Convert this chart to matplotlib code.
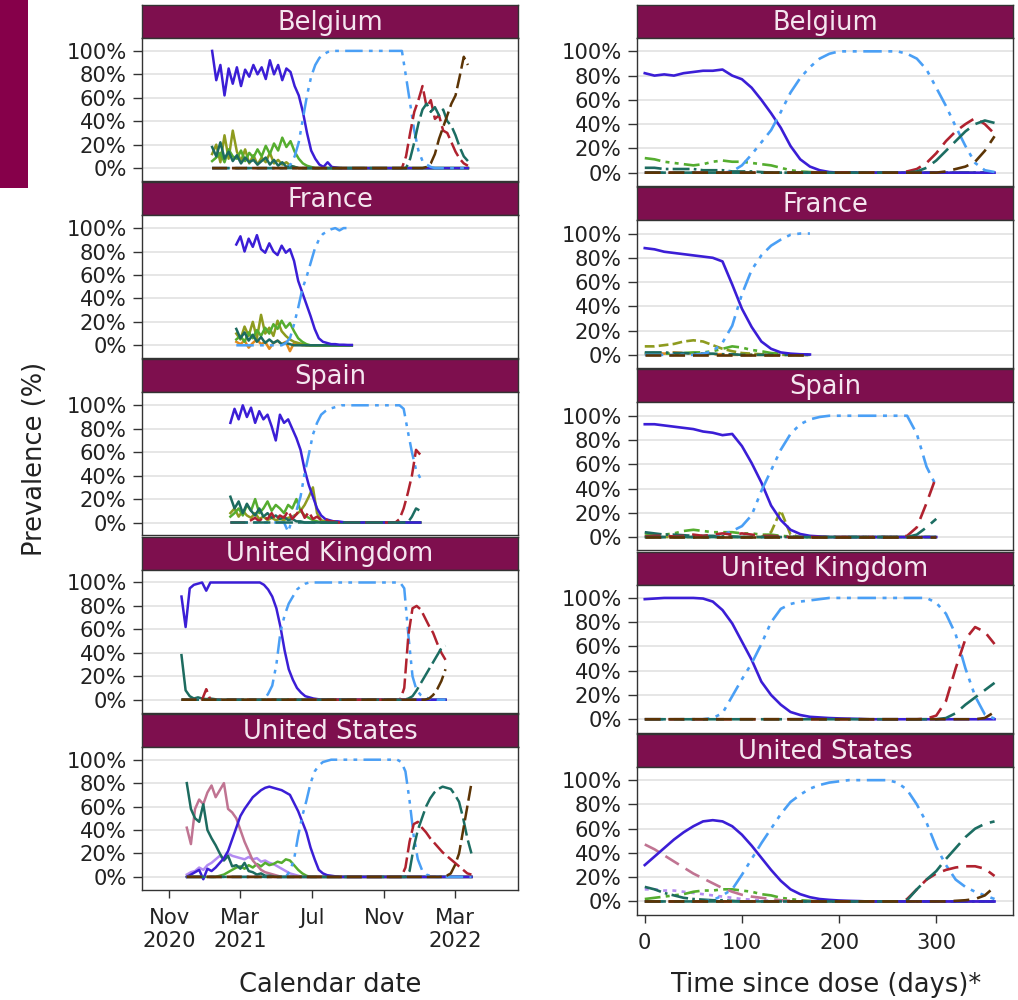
import numpy as np
import pandas as pd
import matplotlib
matplotlib.use("Agg")
import matplotlib.pyplot as plt
from matplotlib.patches import Rectangle

countries = ["Belgium", "France", "Spain", "United Kingdom", "United States"]

# ---- calendar-date panels: weekly prevalence (%) from a start date ----
be_cal_start = "2021-01-13"
be_cal_alpha = [100, 75, 88, 62, 85, 72, 86, 70, 84, 78, 88, 80, 86, 76, 92, 80, 88, 75, 85, 82,
                70, 62, 48, 30, 15, 8, 3, 1, 5, 1, 0.5] + [0] * 32
be_cal_delta = [0] * 19 + [3, 10, 22, 42, 62, 78, 88, 94, 97, 99] + [100] * 18 + \
               [78, 55, 32, 15, 6, 3, 1] + [0] * 9
be_cal_ba1 = [0] * 47 + [10, 30, 48, 58, 70, 52, 58, 42, 45, 32, 30, 22, 14, 8, 4, 2]
be_cal_ba11 = [0] * 48 + [8, 22, 38, 50, 55, 48, 52, 45, 50, 40, 36, 28, 18, 10, 6]
be_cal_ba2 = [0] * 52 + [1, 4, 12, 25, 35, 45, 55, 62, 78, 95, 88]
be_cal_olive = [12, 20, 5, 28, 8, 32, 14, 6, 16, 4, 11, 3, 9, 5, 13, 4, 7, 3, 5, 2, 1, 0] + [0] * 41
be_cal_green = [6, 9, 13, 5, 16, 10, 8, 15, 6, 13, 9, 16, 10, 19, 12, 21, 15, 26, 18, 23, 14, 8, 4, 2, 1] + [0] * 38
be_cal_other = [18, 10, 22, 8, 14, 6, 11, 4, 9, 5, 7, 3, 6, 9, 3, 7, 2, 5, 1, 2, 1] + [0] * 42

fr_cal_start = "2021-02-23"
fr_cal_alpha = [86, 93, 80, 91, 84, 94, 82, 79, 87, 80, 77, 85, 79, 82, 72, 55, 45, 35, 25, 14,
                6, 3, 2, 1, 1, 0.5, 0.5, 0.3, 0.3]
fr_cal_delta = [0] * 12 + [2, 6, 18, 32, 48, 58, 70, 82, 90, 95, 97, 99, 100, 98, 100, 100, 99]
fr_cal_olive = [10, 5, 16, 8, 20, 6, 26, 10, 15, 8, 21, 12, 8, 5, 3, 2, 1] + [0] * 12
fr_cal_green = [5, 8, 3, 11, 6, 13, 8, 15, 10, 18, 14, 21, 15, 19, 12, 6, 3, 1] + [0] * 11
fr_cal_other = [14, 6, 11, 4, 9, 3, 7, 2, 5, 2, 4, 1, 2, 1] + [0] * 15
fr_cal_orange = [3, 1, 4, -2, 2, 5, 1, 3, -3, 2, 4, 1, 3, -5, 2, 1, 0] + [0] * 12

es_cal_start = "2021-02-13"
es_cal_alpha = [85, 97, 88, 100, 90, 98, 85, 95, 88, 92, 82, 70, 92, 85, 88, 80, 72, 62, 45, 32,
                22, 12, 6, 3, 2, 1, 1, 0.5] + [0] * 19
es_cal_delta = [0] * 14 + [-8, 3, 10, 22, 42, 58, 75, 85, 92, 95, 97, 98, 99] + [100] * 15 + \
               [97, 78, 60, 45, 38]
es_cal_ba1 = [0] * 5 + [2, 4, 1, 5, 3, 8, 2, 6, 4, 10, 3, 7, 12, 4, 9, 3, 5, 2, 3, 1, 1] + [0] * 15 + \
             [3, 12, 25, 40, 62, 58]
es_cal_ba11 = [0] * 44 + [5, 12, 10]
es_cal_other = [22, 12, 18, 8, 16, 10, 6, 12, 5, 8, 4, 6, 3, 5, 2, 3, 1, 1] + [0] * 29
es_cal_green = [5, 8, 12, 6, 15, 10, 20, 8, 12, 18, 10, 15, 12, 8, 15, 12, 20, 10, 6, 4, 2, 1] + [0] * 25
es_cal_olive = [8, 12, 5, 10, 6, 4, 8, 3, 5, 2, 4, 2, 3, 2, 4, 5, 7, 10, 15, 22, 30, 8, 2, 1] + [0] * 23

uk_cal_start = "2020-11-22"
uk_cal_alpha = [88, 62, 95, 98, 99, 100, 93] + [100] * 13 + \
               [98, 94, 88, 78, 62, 42, 26, 17, 10, 6, 3, 2, 1, 0.5] + [0] * 31
uk_cal_delta = [0] * 21 + [5, 12, 30, 58, 72, 82, 88, 94, 97, 99] + [100] * 23 + \
               [95, 55, 20, 8, 4, 2, 1, 0.5] + [0] * 3
uk_cal_ba1 = [0] * 6 + [9] + [0] * 47 + [10, 55, 78, 80, 77, 70, 63, 57, 48, 40, 34]
uk_cal_ba11 = [0] * 55 + [1, 3, 8, 14, 20, 26, 32, 38, 44, 46]
uk_cal_ba2 = [0] * 60 + [1, 4, 9, 16, 26]
uk_cal_other = [38, 8, 3, 1, 2, 1, 0.5, 1, 0.5] + [0] * 56

us_cal_start = "2020-12-01"
us_cal_other = [80, 58, 50, 47, 62, 40, 33, 27, 20, 14, 18, 9, 10, 7, 12, 5, 4, 2, 3, 1, 1, 0.5] + [0] * 48
us_cal_pink = [42, 28, 58, 66, 62, 72, 78, 68, 74, 80, 58, 55, 50, 40, 30, 22, 14, 10, 6, 4, 3, 2, 1] + [0] * 47
us_cal_alpha = [0, 2, 4, 6, -2, 7, 5, 8, 12, 16, 22, 32, 42, 52, 58, 63, 68, 71, 74, 76, 77, 76, 75,
                74, 72, 70, 63, 56, 47, 38, 25, 15, 6, 3, 1.5, 1, 0.5] + [0] * 33
us_cal_purple = [2, 4, 5, 8, 6, 10, 12, 15, 18, 15, 20, 18, 17, 16, 15, 17, 15, 16, 13, 14, 12, 11,
                 9, 7, 5, 3, 2, 1] + [0] * 42
us_cal_green = [0] * 8 + [1, 2, 4, 6, 8, 9, 7, 10, 8, 11, 9, 12, 10, 11, 13, 12, 15, 14, 10, 6, 3, 1] + [0] * 40
us_cal_delta = [0] * 25 + [5, 15, 35, 52, 65, 80, 90, 95, 98, 99] + [100] * 17 + \
               [98, 90, 65, 35, 15, 6, 2, 1] + [0] * 10
us_cal_ba1 = [0] * 53 + [8, 30, 45, 47, 42, 38, 33, 29, 25, 21, 18, 15, 12, 9, 6, 3, 2]
us_cal_ba11 = [0] * 54 + [5, 25, 40, 50, 60, 67, 72, 75, 77, 76, 75, 70, 64, 50, 33, 20]
us_cal_ba2 = [0] * 63 + [1, 3, 10, 20, 40, 60, 80]

# ---- time-since-dose panels: values every 10 days from day 0 ----
be_dose_alpha = [82, 80, 81, 80, 82, 83, 84, 84, 85, 80, 77, 70, 60, 49, 37, 22, 11, 5, 2, 0.5] + [0] * 17
be_dose_delta = [0] * 9 + [1, 6, 15, 25, 35, 50, 66, 78, 87, 94, 98] + [100] * 7 + \
                [98, 94, 85, 70, 55, 38, 22, 8, 2, 0.5]
be_dose_ba1 = [0] * 27 + [1, 3, 8, 16, 26, 34, 40, 45, 40, 32]
be_dose_ba11 = [0] * 28 + [1, 4, 10, 18, 26, 34, 40, 43, 41]
be_dose_ba2 = [0] * 31 + [1, 3, 5, 9, 18, 30]
be_dose_green = [12, 11, 9, 8, 7, 6, 7, 9, 10, 9, 9, 8, 7, 6, 4, 2, 1, 0.5] + [0] * 19
be_dose_other = [4, 4, 3, 3, 3, 3, 2, 2, 2, 1, 1, 1, 0.5] + [0] * 24

fr_dose_alpha = [88, 87, 85, 84, 83, 82, 81, 80, 77, 58, 38, 23, 11, 5, 2, 1, 0.5, 0.3]
fr_dose_delta = [0] * 6 + [1, 3, 10, 24, 50, 70, 82, 90, 95, 99, 100, 100]
fr_dose_olive = [7, 7, 8, 9, 11, 12, 11, 8, 5, 3, 1.5, 1, 0.5, 0, 0, 0, 0, 0]
fr_dose_green = [1, 1, 1, 1, 1.5, 2, 2, 3, 5, 7, 6, 4, 3, 1.5, 1, 0.5, 0, 0]
fr_dose_other = [2, 2, 2, 1.5, 1.5, 1, 1, 1, 0.5, 0.5] + [0] * 8
fr_dose_orange = [1, 1.5, 1, 2, 1.5, 1, 1, 0.5, 0.5] + [0] * 9
fr_dose_ba2 = [0] * 18

es_dose_alpha = [93, 93, 92, 91, 90, 89, 87, 86, 84, 85, 75, 61, 45, 26, 14, 6, 2.5, 1, 0.5] + [0] * 12
es_dose_delta = [0] * 8 + [2, 5, 9, 18, 38, 55, 72, 85, 93, 97, 99] + [100] * 9 + [85, 58, 42]
es_dose_ba1 = [0.5, 1, 1, 0.5, 1, 2, 1, 2, 3, 2, 3, 2, 1, 1, 0.5] + [0] * 12 + [1, 8, 28, 50]
es_dose_ba11 = [0] * 28 + [2, 8, 15]
es_dose_green = [3, 2, 2, 3, 5, 6, 5, 4, 4, 4, 3, 3, 2, 2, 1, 0.5] + [0] * 15
es_dose_olive = [0] * 13 + [4, 22, 2] + [0] * 15
es_dose_other = [4, 3, 2, 2, 1.5, 1, 1, 1, 0.5, 0.5] + [0] * 21
es_dose_ba2 = [0] * 31

uk_dose_alpha = [99, 99.5, 100, 100, 100, 100, 99.5, 97, 90, 79, 64, 49, 31, 20, 12, 6, 3.5, 2, 1.5,
                 1, 0.7, 0.5, 0.3] + [0] * 14
uk_dose_delta = [0] * 7 + [1, 5, 19, 33, 46, 62, 80, 91, 95, 97, 98, 99] + [100] * 11 + \
                [96, 87, 70, 42, 19, 4, 0.5]
uk_dose_ba1 = [0] * 29 + [0.5, 3, 15, 42, 66, 76, 72, 62]
uk_dose_ba11 = [0] * 31 + [1, 5, 12, 18, 24, 30]
uk_dose_ba2 = [0] * 35 + [1, 6]

us_dose_alpha = [30, 37, 44, 51, 57, 62, 66, 67, 66, 62, 55, 46, 36, 26, 17, 10, 6, 3.5, 2, 1.3,
                 0.8, 0.5, 0.3] + [0] * 14
us_dose_delta = [0] * 7 + [1, 5, 10, 22, 35, 48, 60, 72, 82, 88, 93, 96, 98, 99] + [100] * 5 + \
                [98, 92, 80, 65, 45, 30, 18, 12, 8, 5, 2]
us_dose_pink = [47, 43, 38, 33, 28, 23, 19, 15, 11, 8, 5.5, 4, 3, 2, 1, 0.5] + [0] * 21
us_dose_other = [12, 10, 7, 5, 3, 2, 1.5, 1, 1, 0.5] + [0] * 27
us_dose_green = [2, 3, 4, 5, 6, 8, 9, 9, 10, 10, 9, 8, 6, 5, 3, 2, 1, 0.5] + [0] * 19
us_dose_purple = [10, 10, 9, 9, 8, 7, 6, 5, 4, 3, 2, 1.5, 1, 0.5] + [0] * 23
us_dose_ba1 = [0] * 27 + [2, 10, 18, 23, 26, 28, 29, 29, 27, 21]
us_dose_ba11 = [0] * 27 + [1, 10, 18, 25, 35, 44, 53, 60, 64, 66]
us_dose_ba2 = [0] * 32 + [0.5, 1, 2, 5, 12]

cal_tick_dates = ["2020-11-01", "2021-03-01", "2021-07-01", "2021-11-01", "2022-03-01"]
dose_ticks = [0, 100, 200, 300]

cal_panels = [
    (be_cal_start, [("olive", be_cal_olive), ("green", be_cal_green), ("other", be_cal_other),
                    ("alpha", be_cal_alpha), ("delta", be_cal_delta), ("ba1", be_cal_ba1),
                    ("ba11", be_cal_ba11), ("ba2", be_cal_ba2)]),
    (fr_cal_start, [("orange", fr_cal_orange), ("olive", fr_cal_olive), ("green", fr_cal_green),
                    ("other", fr_cal_other), ("alpha", fr_cal_alpha), ("delta", fr_cal_delta)]),
    (es_cal_start, [("olive", es_cal_olive), ("green", es_cal_green), ("other", es_cal_other),
                    ("alpha", es_cal_alpha), ("delta", es_cal_delta), ("ba1", es_cal_ba1),
                    ("ba11", es_cal_ba11)]),
    (uk_cal_start, [("other", uk_cal_other), ("alpha", uk_cal_alpha), ("delta", uk_cal_delta),
                    ("ba1", uk_cal_ba1), ("ba11", uk_cal_ba11), ("ba2", uk_cal_ba2)]),
    (us_cal_start, [("purple", us_cal_purple), ("green", us_cal_green), ("pink", us_cal_pink),
                    ("other", us_cal_other), ("alpha", us_cal_alpha), ("delta", us_cal_delta),
                    ("ba1", us_cal_ba1), ("ba11", us_cal_ba11), ("ba2", us_cal_ba2)]),
]
dose_panels = [
    [("green", be_dose_green), ("other", be_dose_other), ("alpha", be_dose_alpha),
     ("delta", be_dose_delta), ("ba1", be_dose_ba1), ("ba11", be_dose_ba11), ("ba2", be_dose_ba2)],
    [("orange", fr_dose_orange), ("olive", fr_dose_olive), ("green", fr_dose_green),
     ("other", fr_dose_other), ("alpha", fr_dose_alpha), ("delta", fr_dose_delta), ("ba2", fr_dose_ba2)],
    [("olive", es_dose_olive), ("green", es_dose_green), ("other", es_dose_other),
     ("alpha", es_dose_alpha), ("delta", es_dose_delta), ("ba1", es_dose_ba1),
     ("ba11", es_dose_ba11), ("ba2", es_dose_ba2)],
    [("alpha", uk_dose_alpha), ("delta", uk_dose_delta), ("ba1", uk_dose_ba1),
     ("ba11", uk_dose_ba11), ("ba2", uk_dose_ba2)],
    [("purple", us_dose_purple), ("green", us_dose_green), ("pink", us_dose_pink),
     ("other", us_dose_other), ("alpha", us_dose_alpha), ("delta", us_dose_delta),
     ("ba1", us_dose_ba1), ("ba11", us_dose_ba11), ("ba2", us_dose_ba2)],
]

colors = {
    "alpha": "#3b1ed6", "delta": "#4a9ff5", "ba1": "#b0222f", "ba11": "#1c6d62",
    "ba2": "#5c3405", "other": "#1d6b5f", "green": "#55ad2f", "olive": "#8e9b1f",
    "pink": "#c07492", "purple": "#b38bf2", "orange": "#e08a1e",
}
dash_dot_dot = (0, (7, 2.5, 1.5, 2.5, 1.5, 2.5))
cal_ls = {"delta": dash_dot_dot, "ba1": (0, (6, 2)), "ba11": (0, (7, 2)), "ba2": (0, (6, 2))}
dose_ls = {"delta": dash_dot_dot, "ba1": (0, (6, 3)), "ba11": (0, (8, 3)), "ba2": (0, (6, 3)),
           "other": "-.", "green": (0, (6, 2, 1.5, 2, 1.5, 2)), "olive": "--",
           "pink": (0, (6, 3)), "purple": (0, (1.5, 2)), "orange": "--"}

strip_color = "#7e0f4e"
text_color = "#222222"
W, H = 1018, 1000
fig = plt.figure(figsize=(W / 100, H / 100), dpi=100)


def px_box(x0, y0, x1, y1):
    return [x0 / W, 1 - y1 / H, (x1 - x0) / W, (y1 - y0) / H]


def style_axes(ax, bottom):
    ax.set_ylim(-11, 111)
    ax.set_yticks(range(0, 101, 20))
    ax.set_yticklabels([f"{v}%" for v in range(0, 101, 20)])
    ax.grid(axis="y", color="#e4e4e4", lw=1.3)
    ax.set_axisbelow(True)
    for s in ax.spines.values():
        s.set_color("#333333")
        s.set_linewidth(1.0)
    ax.tick_params(axis="y", length=6.5, width=1, pad=4.5, labelsize=15.2,
                   colors="#333333", labelcolor=text_color)
    if bottom:
        ax.tick_params(axis="x", length=6, width=1, pad=7, labelsize=15.2,
                       colors="#333333", labelcolor=text_color)
    else:
        ax.tick_params(axis="x", length=0, labelbottom=False)


def add_strip(x0, x1, top, title):
    sax = fig.add_axes(px_box(x0, top, x1, top + 33))
    sax.set_facecolor(strip_color)
    sax.set_xticks([])
    sax.set_yticks([])
    for s in sax.spines.values():
        s.set_color("#333333")
        s.set_linewidth(1.0)
    sax.text(0.5, 0.46, title, ha="center", va="center", color="#f4e6ef",
             fontsize=18.5, transform=sax.transAxes)


cal_ticks = pd.to_datetime(cal_tick_dates)
cal_labels = []
prev_year = None
for d in cal_ticks:
    lab = d.strftime("%b")
    if d.year != prev_year:
        lab += "\n" + str(d.year)
    prev_year = d.year
    cal_labels.append(lab)

for k, country in enumerate(countries):
    # calendar date column
    top = 5 + 177.2 * k
    add_strip(142, 518, top, country)
    ax = fig.add_axes(px_box(142, top + 33, 518, top + 176))
    start, series = cal_panels[k]
    for name, vals in series:
        dates = pd.date_range(start, periods=len(vals), freq="7D")
        ax.plot(dates, vals, color=colors[name], ls=cal_ls.get(name, "-"), lw=1.8)
    ax.set_xlim(pd.Timestamp("2020-09-16"), pd.Timestamp("2022-06-16"))
    ax.set_xticks(cal_ticks)
    ax.set_xticklabels(cal_labels)
    style_axes(ax, k == len(countries) - 1)

    # time since dose column
    top = 5 + 182.2 * k
    add_strip(637, 1013, top, country)
    ax = fig.add_axes(px_box(637, top + 33, 1013, top + 181))
    for name, vals in dose_panels[k]:
        days = np.arange(len(vals)) * 10
        ax.plot(days, vals, color=colors[name], ls=dose_ls.get(name, "-"), lw=1.9)
    ax.set_xlim(-8, 379)
    ax.set_xticks(dose_ticks)
    style_axes(ax, k == len(countries) - 1)

fig.text(35 / W, 1 - 459 / H, "Prevalence (%)", rotation=90, ha="center", va="center",
         fontsize=18.5, color=text_color)
fig.text(330 / W, 1 - 985 / H, "Calendar date", ha="center", va="center",
         fontsize=18.5, color=text_color)
fig.text(826 / W, 1 - 985 / H, "Time since dose (days)*", ha="center", va="center",
         fontsize=18.5, color=text_color)

fig.add_artist(Rectangle((0, 1 - 188 / H), 28 / W, 188 / H, transform=fig.transFigure,
                         color="#86004a", lw=0))

fig.savefig("out.png", dpi=100)
